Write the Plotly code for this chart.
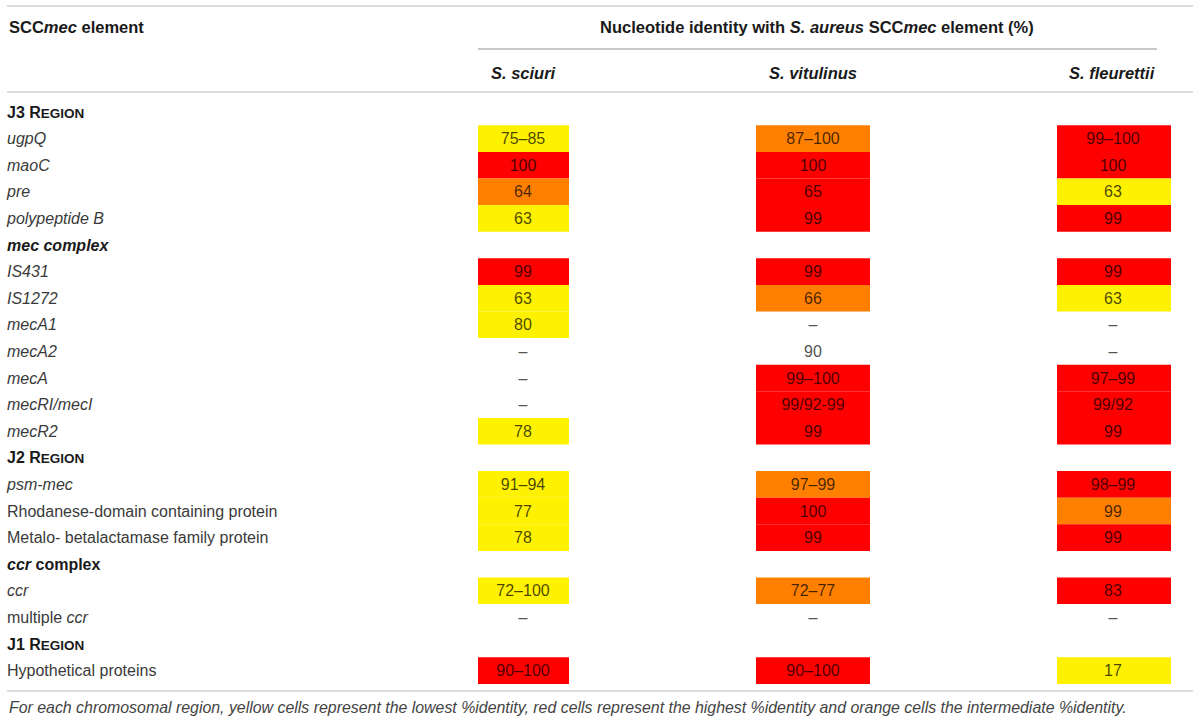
import plotly.graph_objects as go

# table content
row_labels = [
    "J3 R<span style='font-size:13.5px'>EGION</span>",
    "<i>ugpQ</i>", "<i>maoC</i>", "<i>pre</i>", "<i>polypeptide B</i>",
    "<i>mec complex</i>",
    "<i>IS431</i>", "<i>IS1272</i>", "<i>mecA1</i>", "<i>mecA2</i>", "<i>mecA</i>",
    "<i>mecRI/mecI</i>", "<i>mecR2</i>",
    "J2 R<span style='font-size:13.5px'>EGION</span>",
    "<i>psm-mec</i>", "Rhodanese-domain containing protein",
    "Metalo- betalactamase family protein",
    "<i>ccr</i> complex",
    "<i>ccr</i>", "multiple <i>ccr</i>",
    "J1 R<span style='font-size:13.5px'>EGION</span>",
    "Hypothetical proteins",
]
section_rows = [0, 5, 13, 17, 20]

species = ["S. sciuri", "S. vitulinus", "S. fleurettii"]

sciuri_values = ["", "75–85", "100", "64", "63", "", "99", "63", "80", "–", "–",
                 "–", "78", "", "91–94", "77", "78", "", "72–100", "–", "", "90–100"]
sciuri_levels = ["", "y", "r", "o", "y", "", "r", "y", "y", "", "",
                 "", "y", "", "y", "y", "y", "", "y", "", "", "r"]

vitulinus_values = ["", "87–100", "100", "65", "99", "", "99", "66", "–", "90", "99–100",
                    "99/92-99", "99", "", "97–99", "100", "99", "", "72–77", "–", "", "90–100"]
vitulinus_levels = ["", "o", "r", "r", "r", "", "r", "o", "", "", "r",
                    "r", "r", "", "o", "r", "r", "", "o", "", "", "r"]

fleurettii_values = ["", "99–100", "100", "63", "99", "", "99", "63", "–", "–", "97–99",
                     "99/92", "99", "", "98–99", "99", "99", "", "83", "–", "", "17"]
fleurettii_levels = ["", "r", "r", "y", "r", "", "r", "y", "", "", "r",
                     "r", "r", "", "r", "o", "r", "", "r", "", "", "y"]

level_colors = {"y": "#FFF200", "o": "#FF8000", "r": "#FF0000"}

FONT = "Liberation Sans"
TXT = "#3a3a3a"
HEAD = "#1a1a1a"
LINE = "#dddddd"

# column geometry (x in pixels), rows in row units
col_left = [478, 756, 1057]
col_width = [91, 114, 114]
col_center = [523, 813, 1113]

rows = list(range(len(row_labels)))
columns = [
    (sciuri_values, sciuri_levels),
    (vitulinus_values, vitulinus_levels),
    (fleurettii_values, fleurettii_levels),
]

fig = go.Figure()

for k, (vals, levels) in enumerate(columns):
    idx = [i for i in rows if levels[i]]
    fig.add_trace(go.Bar(
        orientation="h",
        y=idx,
        x=[col_width[k]] * len(idx),
        base=[col_left[k]] * len(idx),
        width=1,
        marker=dict(color=[level_colors[levels[i]] for i in idx], line=dict(width=0)),
        hoverinfo="skip",
        showlegend=False,
    ))

# text is nudged a little down to sit like the reference
TEXT_DY = 0.06

for k, (vals, levels) in enumerate(columns):
    idx = [i for i in rows if vals[i]]
    fig.add_trace(go.Scatter(
        x=[col_center[k]] * len(idx),
        y=[i + TEXT_DY for i in idx],
        mode="text",
        text=[vals[i] for i in idx],
        textposition="middle center",
        textfont=dict(family=FONT, size=16,
                      color=["rgba(0,0,0,0.72)" if levels[i] else "#555555" for i in idx]),
        hoverinfo="skip",
        showlegend=False,
    ))

# row labels
fig.add_trace(go.Scatter(
    x=[7] * len(rows),
    y=[i + TEXT_DY for i in rows],
    mode="text",
    text=[("<b>" + lab + "</b>") if i in section_rows else lab for i, lab in enumerate(row_labels)],
    textposition="middle right",
    textfont=dict(family=FONT, size=16,
                  color=[HEAD if i in section_rows else TXT for i in rows]),
    hoverinfo="skip",
    showlegend=False,
))

# header texts
fig.add_annotation(x=7, y=-3.2, text="<b>SCC<i>mec</i> element</b>", xanchor="left",
                   showarrow=False, font=dict(family=FONT, size=16.5, color=HEAD))
fig.add_annotation(x=817, y=-3.2,
                   text="<b>Nucleotide identity with <i>S. aureus</i> SCC<i>mec</i> element (%)</b>",
                   xanchor="center", showarrow=False, font=dict(family=FONT, size=16.5, color=HEAD))
header_x = [523, 813, 1157]
header_anchor = ["center", "center", "right"]
for k, name in enumerate(species):
    fig.add_annotation(x=header_x[k], y=-1.47, text="<b><i>" + name + "</i></b>",
                       xanchor=header_anchor[k], showarrow=False,
                       font=dict(family=FONT, size=16.5, color=HEAD))

fig.add_annotation(
    x=7, y=22.4, xanchor="left", showarrow=False,
    text="<i>For each chromosomal region, yellow cells represent the lowest %identity, "
         "red cells represent the highest %identity and orange cells the intermediate %identity.</i>",
    font=dict(family=FONT, size=15.9, color="#444444"))

# rules
fig.add_shape(type="line", x0=7, x1=1193, y0=-3.98, y1=-3.98, line=dict(color=LINE, width=2))
fig.add_shape(type="line", x0=478, x1=1157, y0=-2.37, y1=-2.37, line=dict(color="#c8c8c8", width=2))
fig.add_shape(type="line", x0=7, x1=1193, y0=-0.75, y1=-0.75, line=dict(color=LINE, width=2))
fig.add_shape(type="line", x0=7, x1=1193, y0=21.77, y1=21.77, line=dict(color=LINE, width=2))

fig.update_layout(
    width=1200, height=723,
    margin=dict(l=0, r=0, t=0, b=0),
    paper_bgcolor="white", plot_bgcolor="white",
    barmode="overlay",
    xaxis=dict(range=[0, 1200], visible=False, fixedrange=True),
    yaxis=dict(range=[22.97, -4.21], visible=False, fixedrange=True),
)

fig.write_html("out.html", config={"displayModeBar": False},
               post_script="document.body.style.margin='0';")
